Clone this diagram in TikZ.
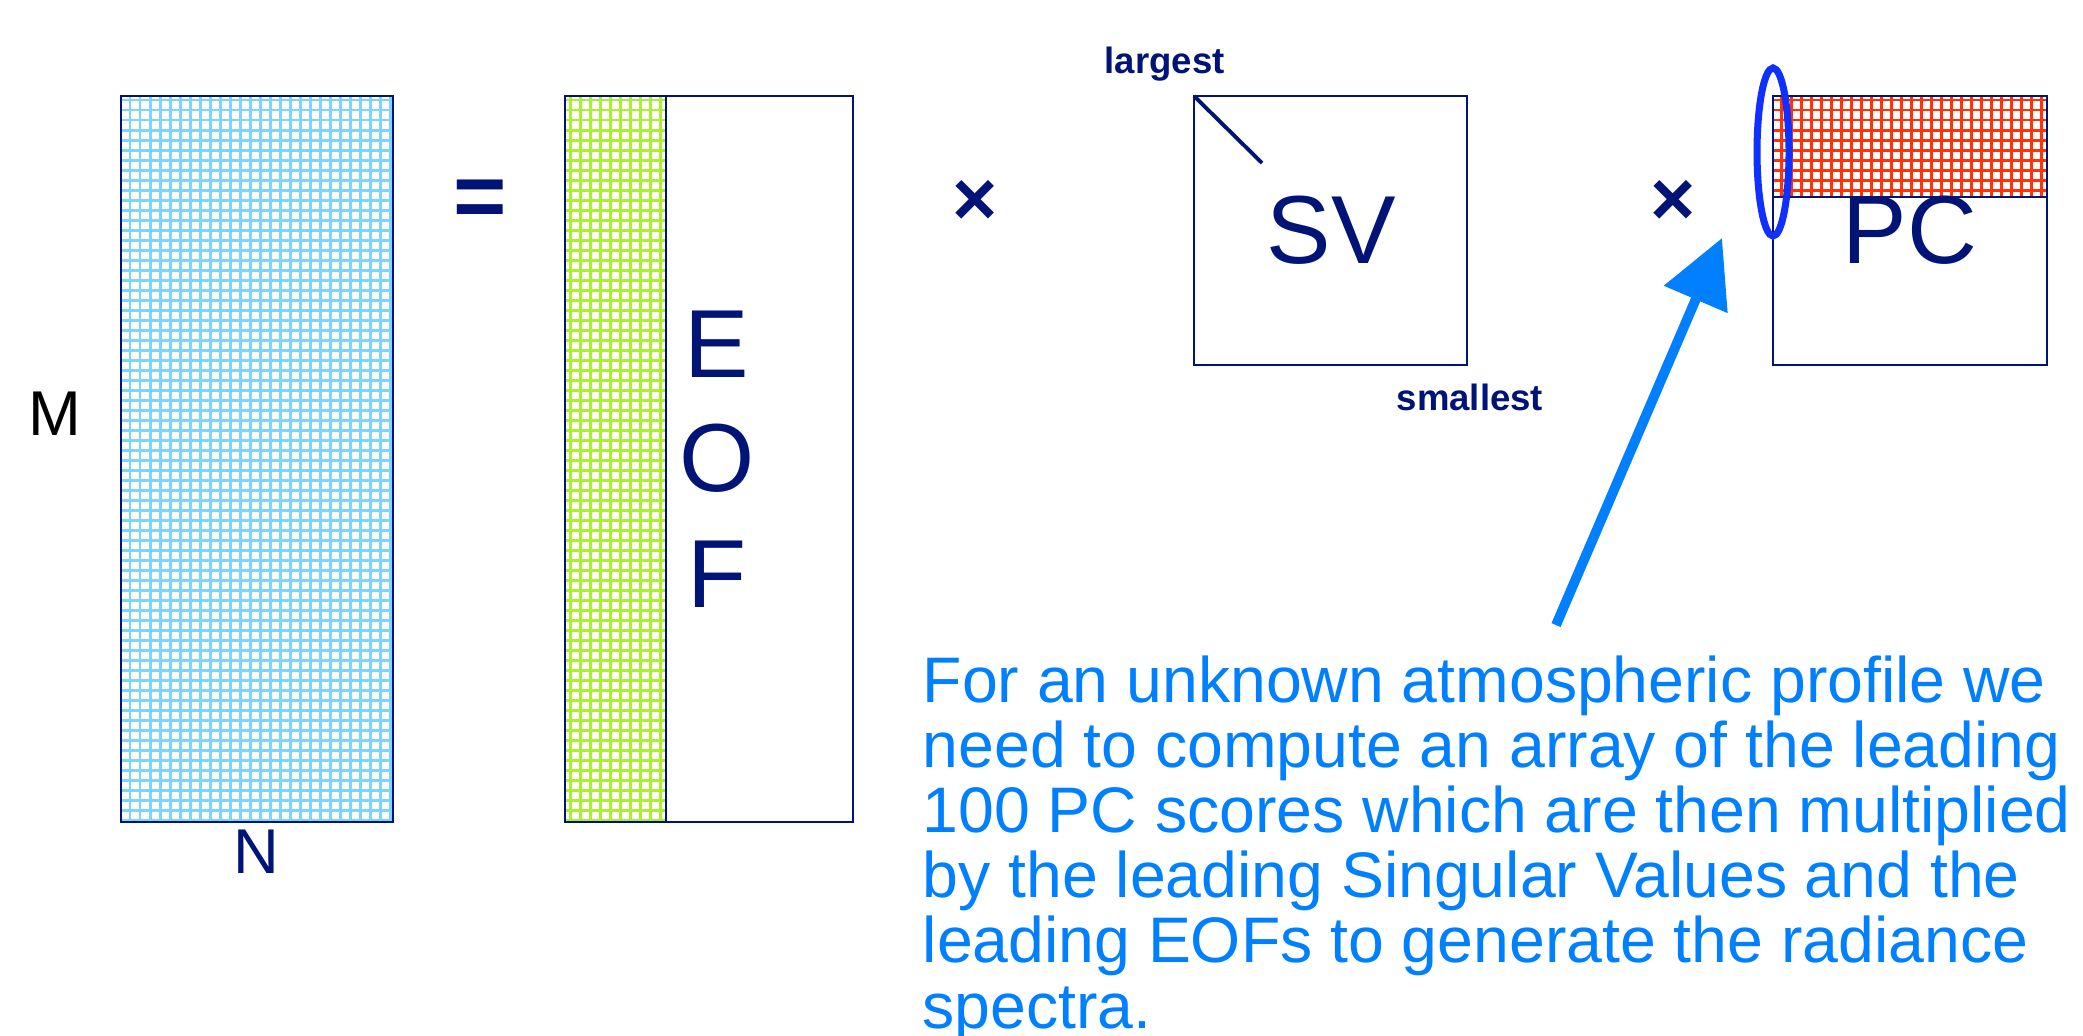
\documentclass[tikz,border=0pt]{standalone}
\usepackage{fontspec}
\setmainfont{Liberation Sans}
\usetikzlibrary{arrows.meta}

\definecolor{navy}{RGB}{0,20,120}
\definecolor{skyline}{RGB}{125,212,255}
\definecolor{limeline}{RGB}{170,240,50}
\definecolor{redline}{RGB}{255,50,10}
\definecolor{noteblue}{RGB}{0,128,255}
\definecolor{ringblue}{RGB}{16,48,255}

\tikzset{
  matbox/.style={draw=navy, line width=0.6pt},
  cellgrid/.style={line width=0.8pt, step=0.1cm},
  bigletter/.style={text=navy, inner sep=0pt, anchor=base, font=\fontsize{27.5}{30}\selectfont},
  dimletter/.style={inner sep=0pt, anchor=base, font=\fontsize{18}{20}\selectfont},
  opsign/.style={text=navy, inner sep=0pt, font=\bfseries\fontsize{26}{28}\selectfont},
  svtag/.style={text=navy, inner sep=0pt, anchor=base west, font=\bfseries\fontsize{10.4}{12}\selectfont},
  pointer/.style={noteblue, line width=2.8pt, -{Triangle[length=19pt,width=19pt]}}
}

\begin{document}
\begin{tikzpicture}[x=0.01cm, y=-0.01cm]
    \useasboundingbox (0,0) rectangle (2083,1035);

    % Data matrix
    \draw[cellgrid, skyline] (121,96) grid (393,822);
    \draw[matbox] (121,96) rectangle (393,822);
    \node[dimletter] (mlabel) at (55,435) {M};
    \node[dimletter, text=navy] (nlabel) at (256,873) {N};

    % Equals
    \node[opsign] (equals) at (480.5,204) {=};

    % EOF matrix
    \draw[cellgrid, limeline] (565,96) grid (666,822);
    \draw[matbox] (565,96) rectangle (853,822);
    \draw[matbox] (666,96) -- (666,822);
    \node[bigletter] (eofE) at (717,377) {E};
    \node[bigletter] (eofO) at (717,491.5) {O};
    \node[bigletter] (eofF) at (717,607) {F};

    % Times
    \node[opsign, font=\bfseries\fontsize{22}{24}\selectfont] (timesA) at (975,203) {×};

    % Singular values
    \draw[matbox] (1194,96) rectangle (1467,365);
    \draw[navy, line width=1.1pt] (1194,96) -- (1262,163);
    \node[bigletter] (svlabel) at (1331,263) {SV};
    \node[svtag] (largest) at (1104,73) {largest};
    \node[svtag] (smallest) at (1396,410) {smallest};

    % Times
    \node[opsign, font=\bfseries\fontsize{22}{24}\selectfont] (timesB) at (1673,203) {×};

    % PC matrix
    \draw[cellgrid, redline] (1773,96) grid (2047,197);
    \draw[matbox] (1773,96) rectangle (2047,365);
    \draw[matbox] (1773,197) -- (2047,197);
    \node[bigletter] (pclabel) at (1910,263) {PC};
    \draw[ringblue, line width=2pt] (1773,152) ellipse [x radius=16, y radius=84];

    % Note and arrow
    \node[text=noteblue, inner sep=0pt, anchor=base west, align=left,
          font=\fontsize{18.3}{18.5}\selectfont] (note) at (922,1028)
      {For an unknown atmospheric profile we\\
       need to compute an array of the leading\\
       100 PC scores which are then multiplied\\
       by the leading Singular Values and the\\
       leading EOFs to generate the radiance\\
       spectra.};
    \coordinate (tail) at (1556,625);
    \coordinate (tip) at (1722,238);
    \draw[pointer] (tail) -- (tip);
\end{tikzpicture}
\end{document}
